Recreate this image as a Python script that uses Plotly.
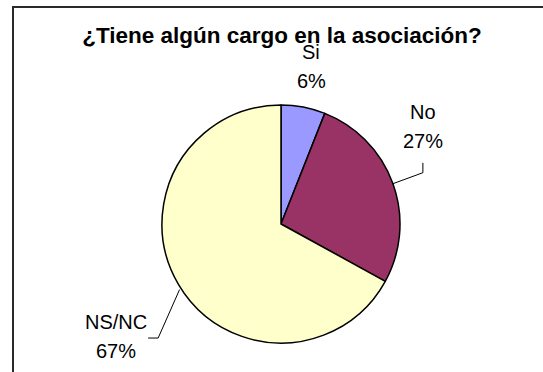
import math
import plotly.graph_objects as go

# Survey answers: "¿Tiene algún cargo en la asociación?"
labels = ["Si", "No", "NS/NC"]
values = [6, 27, 67]
colors = ["#9999FF", "#993366", "#FFFFCC"]
title = "¿Tiene algún cargo en la asociación?"

W, H = 543, 372
CX, CY, R = 281, 224, 119          # pie centre / radius in pixels
FONT = "Liberation Sans, Arial, sans-serif"

def fx(x):
    return x / W

def fy(y):
    return 1 - y / H

fig = go.Figure(
    go.Pie(
        labels=labels,
        values=values,
        sort=False,
        direction="clockwise",
        rotation=0,
        marker=dict(colors=colors, line=dict(color="black", width=1.5)),
        textinfo="none",
        hoverinfo="label+percent",
        showlegend=False,
        domain=dict(x=[fx(CX - R), fx(CX + R)], y=[fy(CY + R), fy(CY - R)]),
    )
)

# label placement (radial distance in radii, angular nudge in degrees, leader style)
placement = {
    "Si": dict(r=1.35, da=0.0, leader=None),
    "No": dict(r=1.445, da=-14.6, leader="below"),
    "NS/NC": dict(r=1.675, da=-3.6, leader="right"),
}

total = sum(values)
annotations = []
shapes = []
start = 0.0
for lab, val in zip(labels, values):
    frac = val / total
    mid = (start + frac / 2) * 360.0
    start += frac
    p = placement[lab]
    a = math.radians(mid + p["da"])
    lx = CX + p["r"] * R * math.sin(a)
    ly = CY - p["r"] * R * math.cos(a)
    pct = f"{round(frac * 100)}%"
    for txt, dy in ((lab, -14.5), (pct, 14.5)):
        annotations.append(dict(
            x=fx(lx), y=fy(ly + dy), xref="paper", yref="paper",
            text=txt, showarrow=False, xanchor="center", yanchor="middle",
            font=dict(family=FONT, size=20, color="black"),
        ))
    # leader line from the slice edge to the label
    am = math.radians(mid)
    ex = CX + R * math.sin(am)
    ey = CY - R * math.cos(am)
    if p["leader"] == "below":
        pts = [(ex, ey), (lx, ey - 11), (lx, ly + 36)]
    elif p["leader"] == "right":
        pts = [(ex + 1, ey + 5), (lx + 42, ly + 2), (lx + 32, ly + 2)]
    else:
        pts = []
    if pts:
        path = "M " + " L ".join(f"{fx(x):.5f},{fy(y):.5f}" for x, y in pts)
        shapes.append(dict(type="path", path=path, xref="paper", yref="paper",
                           line=dict(color="black", width=1)))

# chart-area frame
shapes.append(dict(type="rect", xref="paper", yref="paper",
                   x0=fx(13), x1=1.1, y0=-0.1, y1=fy(7),
                   line=dict(color="#2a2a2a", width=2)))

fig.update_layout(
    width=W,
    height=H,
    margin=dict(l=0, r=0, t=0, b=0),
    paper_bgcolor="white",
    plot_bgcolor="white",
    title=dict(
        text=f"<b>{title}</b>",
        x=fx(282), xanchor="center",
        y=fy(35), yanchor="middle",
        font=dict(family=FONT, size=22.5, color="black"),
    ),
    annotations=annotations,
    shapes=shapes,
)

fig.write_html("out.html")
